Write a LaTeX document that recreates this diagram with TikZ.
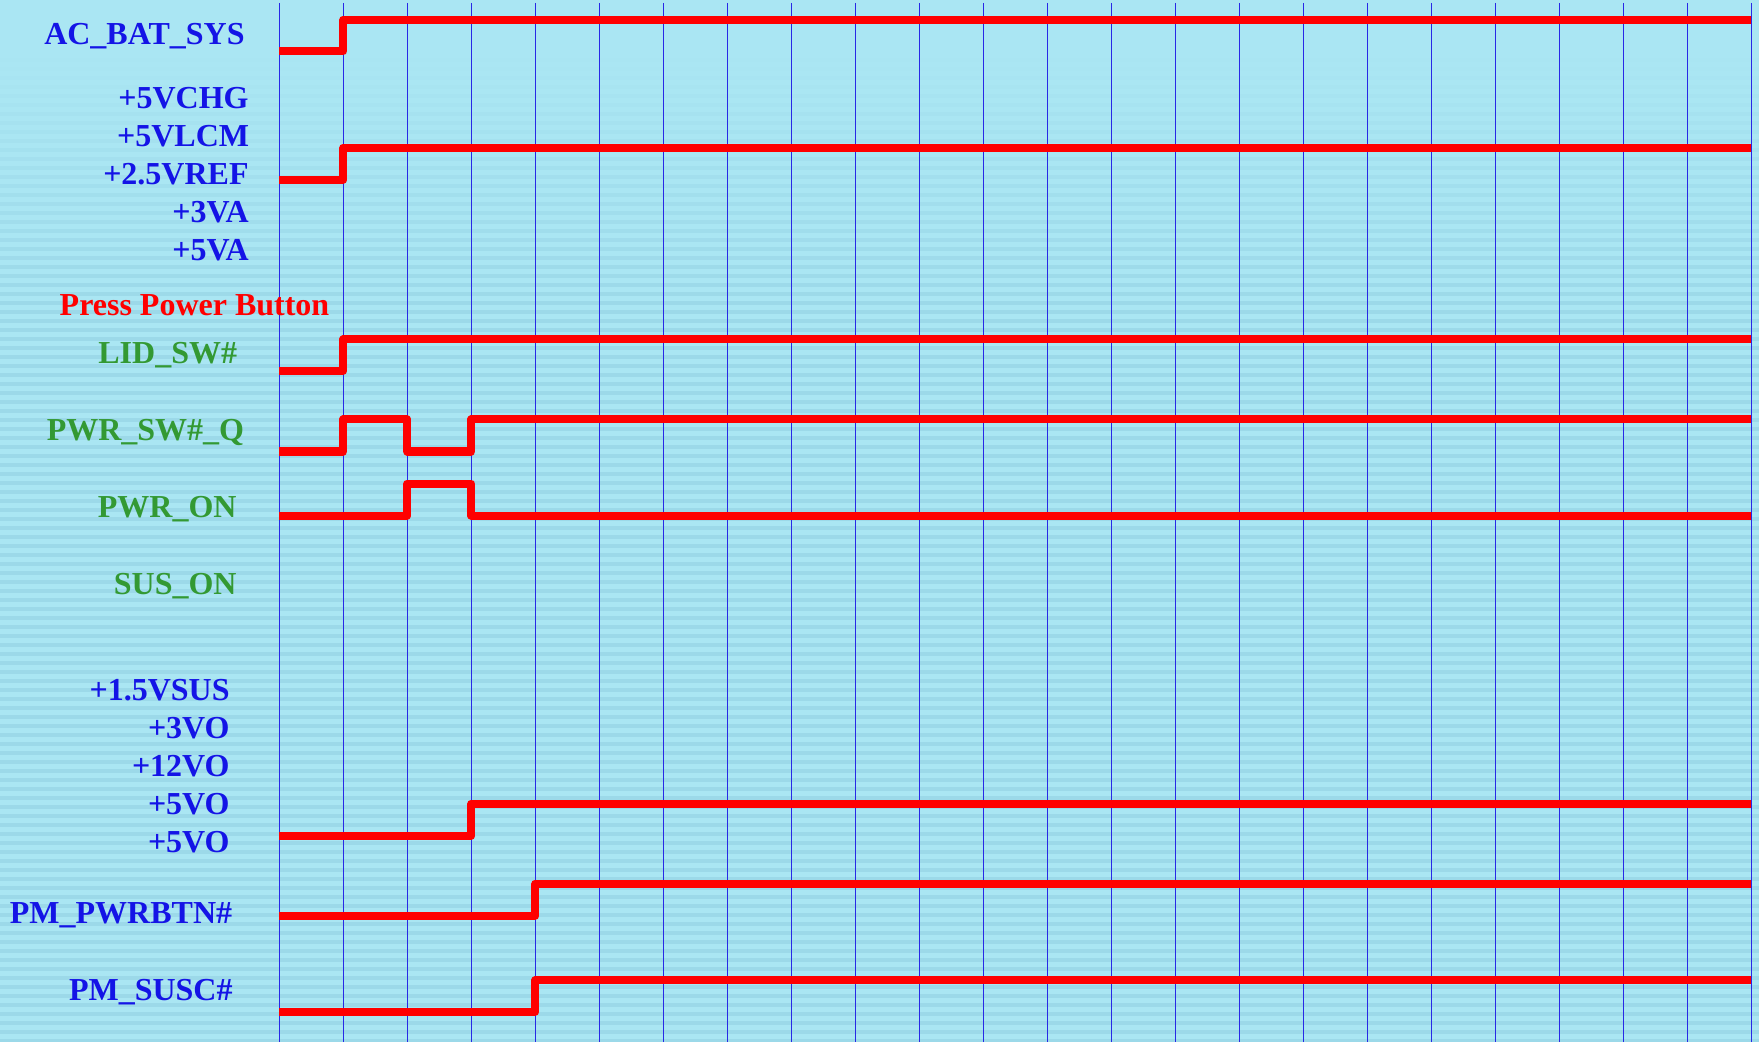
\documentclass[tikz,border=0pt]{standalone}
\usepackage{fontspec}
\setmainfont{Liberation Serif}
\definecolor{sigblue}{RGB}{20,20,230}
\definecolor{siggreen}{RGB}{51,153,51}
\definecolor{bglight}{RGB}{170,230,243}
\definecolor{bgdark}{RGB}{146,208,226}
\definecolor{gridblue}{RGB}{40,40,230}

\tikzset{
  railname/.style={anchor=base east,inner sep=0pt,text=sigblue,font=\fontsize{16}{19}\selectfont\bfseries},
  ctrlname/.style={railname,text=siggreen},
  wave/.style={draw=red,line width=4pt,line join=round},
  gridline/.style={draw=gridblue,line width=0.5pt}
}

\begin{document}
\begin{tikzpicture}[x=0.5pt,y=-0.5pt]
\useasboundingbox (0,0) rectangle (1759,1042);
% background with stripes
\fill[bglight] (0,0) rectangle (1759,1042);
\foreach \y in {4,13,...,1040} {
  \pgfmathsetmacro\op{min(1,max(0,(\y-50)/250))*0.55}
  \fill[bgdark,opacity=\op] (0,\y) rectangle (1759,\y+4);
}
% time grid
\foreach \i in {0,...,23}
  \draw[gridline] (279.3+64*\i,3) -- (279.3+64*\i,1042);

% signal names
\node[railname] (acbat) at (245,44.3) {AC\_BAT\_SYS};
\node[railname] (vchg) at (249,108.3) {+5VCHG};
\node[railname] (vlcm) at (249.5,146.7) {+5VLCM};
\node[railname] (vref) at (249,184.3) {+2.5VREF};
\node[railname] (va3) at (249,222.7) {+3VA};
\node[railname] (va5) at (249,261) {+5VA};
\node[railname,anchor=base west,text=red] (press) at (59.3,315.7) {Press Power Button};
\node[ctrlname] (lidsw) at (237.5,364) {LID\_SW\#};
\node[ctrlname] (pwrsw) at (244.5,440.7) {PWR\_SW\#\_Q};
\node[ctrlname] (pwron) at (237,517.7) {PWR\_ON};
\node[ctrlname] (suson) at (237,594.3) {SUS\_ON};
\node[railname] (vsus) at (230,700) {+1.5VSUS};
\node[railname] (vo3) at (230,738.7) {+3VO};
\node[railname] (vo12) at (230,776.7) {+12VO};
\node[railname] (vo5a) at (230,814.7) {+5VO};
\node[railname] (vo5b) at (230,852.7) {+5VO};
\node[railname] (pwrbtn) at (232.5,923.3) {PM\_PWRBTN\#};
\node[railname] (susc) at (233,1000.7) {PM\_SUSC\#};

% waveforms
\draw[wave] (279.3,51.3) -| (343.3,19.7) -- (1751,19.7);
\draw[wave] (279.3,180) -| (343.3,147.7) -- (1751,147.7);
\draw[wave] (279.3,371) -| (343.3,339.5) -- (1751,339.5);
\draw[wave] (279.3,451.5) -| (343.3,419.5) -| (407.3,451.5) -| (471.3,419.5) -- (1751,419.5);
\draw[wave] (279.3,515.5) -| (407.3,483.5) -| (471.3,515.5) -- (1751,515.5);
\draw[wave] (279.3,836) -| (471.3,803.7) -- (1751,803.7);
\draw[wave] (279.3,915.7) -| (535.3,883.7) -- (1751,883.7);
\draw[wave] (279.3,1011.7) -| (535.3,980) -- (1751,980);
\end{tikzpicture}
\end{document}
